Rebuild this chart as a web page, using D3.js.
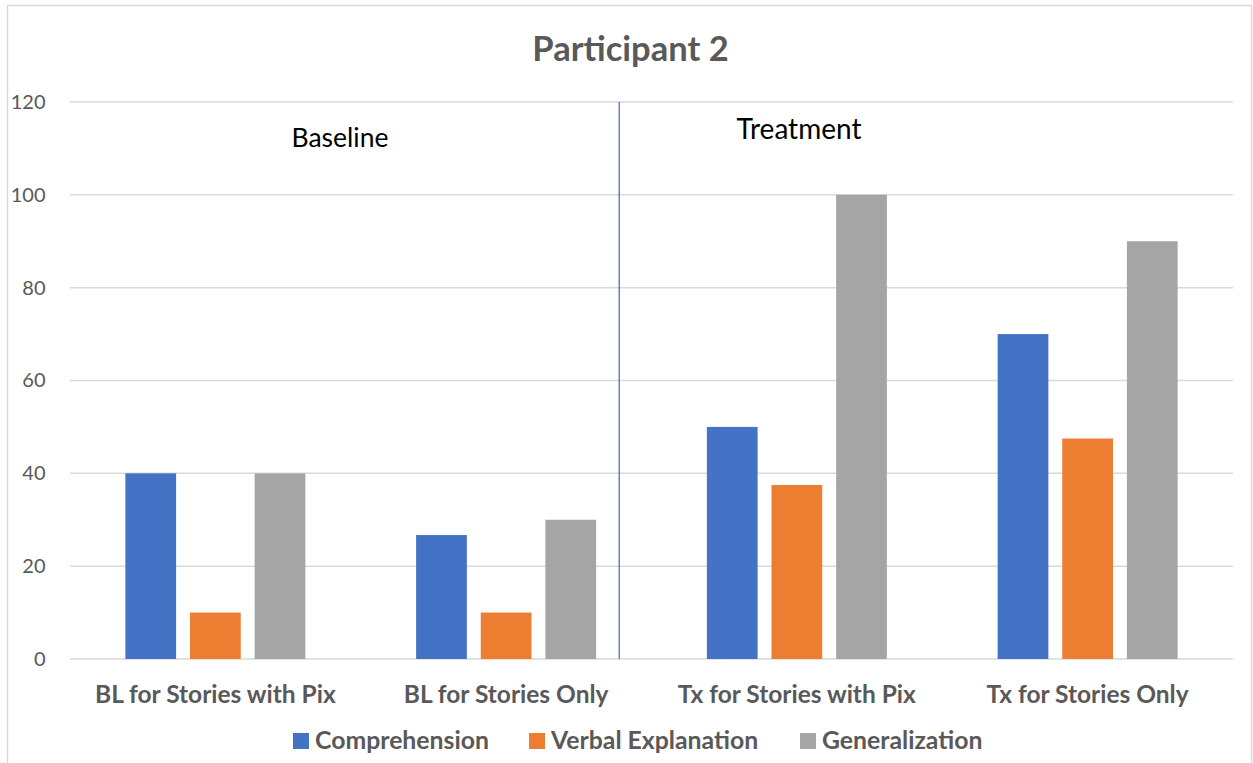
<!DOCTYPE html>
<html>
<head>
<meta charset="utf-8">
<script src="https://cdn.jsdelivr.net/npm/d3@7"></script>
<style>
  html, body { margin: 0; padding: 0; background: #fff; }
  svg { display: block; font-family: Lato, "Open Sans", sans-serif; }
</style>
</head>
<body>
<svg id="chart" width="1253" height="763"></svg>
<script>
// Chart data
const categories = ["BL for Stories with Pix", "BL for Stories Only", "Tx for Stories with Pix", "Tx for Stories Only"];
const seriesNames = ["Comprehension", "Verbal Explanation", "Generalization"];
const comprehension = [40, 26.7, 50, 70];
const verbalExplanation = [10, 10, 37.5, 47.5];
const generalization = [40, 30, 100, 90];
const yTicks = [0, 20, 40, 60, 80, 100, 120];
const colors = ["#4472C4", "#ED7D31", "#A5A5A5"];
const title = "Participant 2";
const phaseLabels = ["Baseline", "Treatment"];

const seriesValues = [comprehension, verbalExplanation, generalization];

const svg = d3.select("#chart");
const plot = { left: 70, right: 1233, top: 102, bottom: 659 };
const FONT = "Lato, 'Open Sans', sans-serif";

// Outer chart frame
svg.append("rect")
  .attr("x", 7.5).attr("y", 5.5)
  .attr("width", 1244).attr("height", 800)
  .attr("fill", "none").attr("stroke", "#d9d9d9").attr("stroke-width", 1.5);

const x0 = d3.scaleBand().domain(categories).range([plot.left, plot.right]).paddingInner(0).paddingOuter(0);
const x1 = d3.scaleBand().domain(seriesNames).range([0, 180]).paddingInner(0.215);
const groupOffset = (x0.bandwidth() - 180) / 2;
const y = d3.scaleLinear().domain([0, 120]).range([plot.bottom, plot.top]);

// Horizontal gridlines
svg.append("g")
  .selectAll("line")
  .data(yTicks)
  .join("line")
  .attr("x1", plot.left).attr("x2", plot.right)
  .attr("y1", d => y(d)).attr("y2", d => y(d))
  .attr("stroke", "#d9d9d9").attr("stroke-width", 1.5);

// Y axis labels
const yAxis = d3.axisLeft(y).tickValues(yTicks).tickSize(0).tickPadding(0);
const yg = svg.append("g").attr("transform", `translate(45.5,0)`).call(yAxis);
yg.select(".domain").remove();
yg.selectAll("text")
  .attr("fill", "#595959")
  .style("font-size", "20px")
  .style("font-family", FONT);

// Bars
const groups = svg.append("g")
  .selectAll("g")
  .data(categories)
  .join("g")
  .attr("transform", d => `translate(${x0(d) + groupOffset},0)`);

groups.selectAll("rect")
  .data((c, i) => seriesNames.map((s, j) => ({ s, j, v: seriesValues[j][i] })))
  .join("rect")
  .attr("x", d => x1(d.s))
  .attr("width", x1.bandwidth())
  .attr("y", d => y(d.v))
  .attr("height", d => y(0) - y(d.v))
  .attr("fill", d => colors[d.j]);

// Category labels
const xAxis = d3.axisBottom(x0).tickSize(0).tickPadding(0);
const xg = svg.append("g").attr("transform", `translate(0,${plot.bottom + 44})`).call(xAxis);
xg.select(".domain").remove();
xg.selectAll("text")
  .attr("fill", "#595959")
  .attr("dy", 0)
  .style("font-size", "24.5px")
  .style("font-weight", "bold")
  .style("font-family", FONT);

// Phase divider between baseline and treatment
const dividerX = x0(categories[1]) + x0.bandwidth() * 0.889;
svg.append("line")
  .attr("x1", dividerX).attr("x2", dividerX)
  .attr("y1", y(120)).attr("y2", y(0))
  .attr("stroke", "#4472C4").attr("stroke-width", 1.3);

// Phase labels
svg.append("text")
  .attr("x", 340).attr("y", 147)
  .attr("text-anchor", "middle")
  .attr("fill", "#000")
  .style("font-size", "26.5px")
  .text(phaseLabels[0]);
svg.append("text")
  .attr("x", 799).attr("y", 139)
  .attr("text-anchor", "middle")
  .attr("fill", "#000")
  .style("font-size", "28px")
  .text(phaseLabels[1]);

// Title
svg.append("text")
  .attr("x", 630.5).attr("y", 61)
  .attr("text-anchor", "middle")
  .attr("fill", "#595959")
  .style("font-size", "34.5px")
  .style("font-weight", "bold")
  .text(title);

// Legend
const legendX = [293, 529, 800];
const legend = svg.append("g")
  .selectAll("g")
  .data(seriesNames)
  .join("g")
  .attr("transform", (d, i) => `translate(${legendX[i]},733)`);
legend.append("rect")
  .attr("width", 16).attr("height", 16)
  .attr("fill", (d, i) => colors[i]);
legend.append("text")
  .attr("x", 22).attr("y", 15.5)
  .attr("fill", "#595959")
  .style("font-size", "24.8px")
  .style("font-weight", "bold")
  .text(d => d);
</script>
</body>
</html>
